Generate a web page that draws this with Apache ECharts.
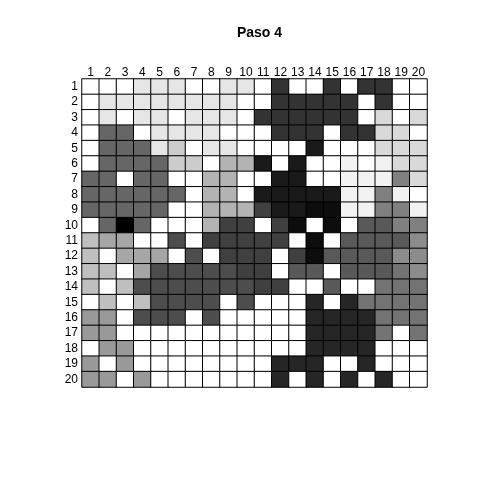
<!DOCTYPE html>
<html>
<head>
<meta charset="utf-8">
<script src="https://cdn.jsdelivr.net/npm/echarts@6/dist/echarts.min.js"></script>
<style>html,body{margin:0;padding:0;background:#fff;}#c{width:480px;height:480px;}</style>
</head>
<body>
<div id="c"></div>
<script>
const titleText = 'Paso 4';
const colLabels = ['1','2','3','4','5','6','7','8','9','10','11','12','13','14','15','16','17','18','19','20'];
const rowLabels = ['1','2','3','4','5','6','7','8','9','10','11','12','13','14','15','16','17','18','19','20'];
// gray level per cell: 0 = black ... 20 = white (gray(k/20))
const row1  = [20,20,20,18,18,18,20,20,18,18, 20,4,20,20,4,20,4,4,20,20];
const row2  = [20,18,18,18,18,18,18,18,18,20, 20,4,4,4,4,4,20,4,20,20];
const row3  = [20,18,20,18,18,20,18,18,18,20, 4,4,4,4,4,4,20,17,20,17];
const row4  = [20,8,8,20,18,18,18,18,20,20, 20,4,4,4,20,4,4,17,17,20];
const row5  = [20,8,8,8,18,16,20,18,18,20, 20,20,20,2,20,20,20,17,17,17];
const row6  = [20,8,8,8,8,16,16,20,14,14, 2,20,2,20,20,19,20,19,17,17];
const row7  = [8,8,20,8,8,20,20,14,14,20, 20,2,2,20,20,19,19,19,10,17];
const row8  = [8,8,8,8,8,8,20,14,14,20, 2,2,2,2,2,19,19,10,19,20];
const row9  = [8,8,8,8,8,20,20,14,14,14, 5,2,2,1,1,19,19,10,10,19];
const row10 = [20,8,0,8,20,20,20,14,5,5, 20,5,1,20,1,20,7,7,10,10];
const row11 = [15,13,13,20,20,6,20,5,5,5, 5,5,20,1,20,7,7,7,7,11];
const row12 = [15,20,13,13,13,20,6,20,5,5, 5,20,5,1,7,7,7,7,11,11];
const row13 = [15,15,20,13,6,6,6,6,6,5, 5,20,7,7,20,7,7,7,9,11];
const row14 = [15,20,15,6,6,6,6,6,6,6, 5,5,20,20,7,20,20,9,9,9];
const row15 = [20,15,20,15,6,6,6,6,20,6, 20,20,20,3,20,3,9,9,9,9];
const row16 = [12,12,20,6,6,6,20,6,20,20, 20,20,20,3,3,3,3,9,9,9];
const row17 = [12,12,20,20,20,20,20,20,20,20, 20,20,20,3,3,3,3,9,20,9];
const row18 = [20,12,12,20,20,20,20,20,20,20, 20,20,20,3,3,3,3,20,20,20];
const row19 = [12,20,12,20,20,20,20,20,20,20, 20,3,3,3,20,20,3,20,20,20];
const row20 = [12,12,20,12,20,20,20,20,20,20, 20,3,20,3,20,3,20,3,20,20];
const levels = [row1,row2,row3,row4,row5,row6,row7,row8,row9,row10,row11,row12,row13,row14,row15,row16,row17,row18,row19,row20];

const data = [];
levels.forEach((row, r) => row.forEach((v, c) => data.push([c, r, v])));

const chart = echarts.init(document.getElementById('c'), null, {renderer: 'canvas'});
const font = 'Liberation Sans, Arial, sans-serif';
chart.setOption({
  animation: false,
  backgroundColor: '#ffffff',
  title: {
    text: titleText,
    left: 254.5,
    top: 21,
    textAlign: 'center',
    textStyle: {fontFamily: font, fontSize: 14, fontWeight: 'bold', color: '#000'}
  },
  grid: {left: 82, top: 79, width: 345, height: 308, containLabel: false},
  xAxis: {
    type: 'category',
    position: 'top',
    data: colLabels,
    axisLine: {show: false},
    axisTick: {show: false},
    splitLine: {show: false},
    axisLabel: {fontFamily: font, fontSize: 12, color: '#000', margin: 0, interval: 0}
  },
  yAxis: {
    type: 'category',
    inverse: true,
    data: rowLabels,
    axisLine: {show: false},
    axisTick: {show: false},
    splitLine: {show: false},
    axisLabel: {fontFamily: font, fontSize: 12, color: '#000', margin: 4, interval: 0}
  },
  visualMap: {
    show: false,
    type: 'continuous',
    min: 0,
    max: 20,
    dimension: 2,
    inRange: {color: ['#000000', '#ffffff']}
  },
  series: [{
    type: 'heatmap',
    data: data,
    itemStyle: {borderColor: '#000000', borderWidth: 1},
    emphasis: {disabled: true}
  }]
});
</script>
</body>
</html>
